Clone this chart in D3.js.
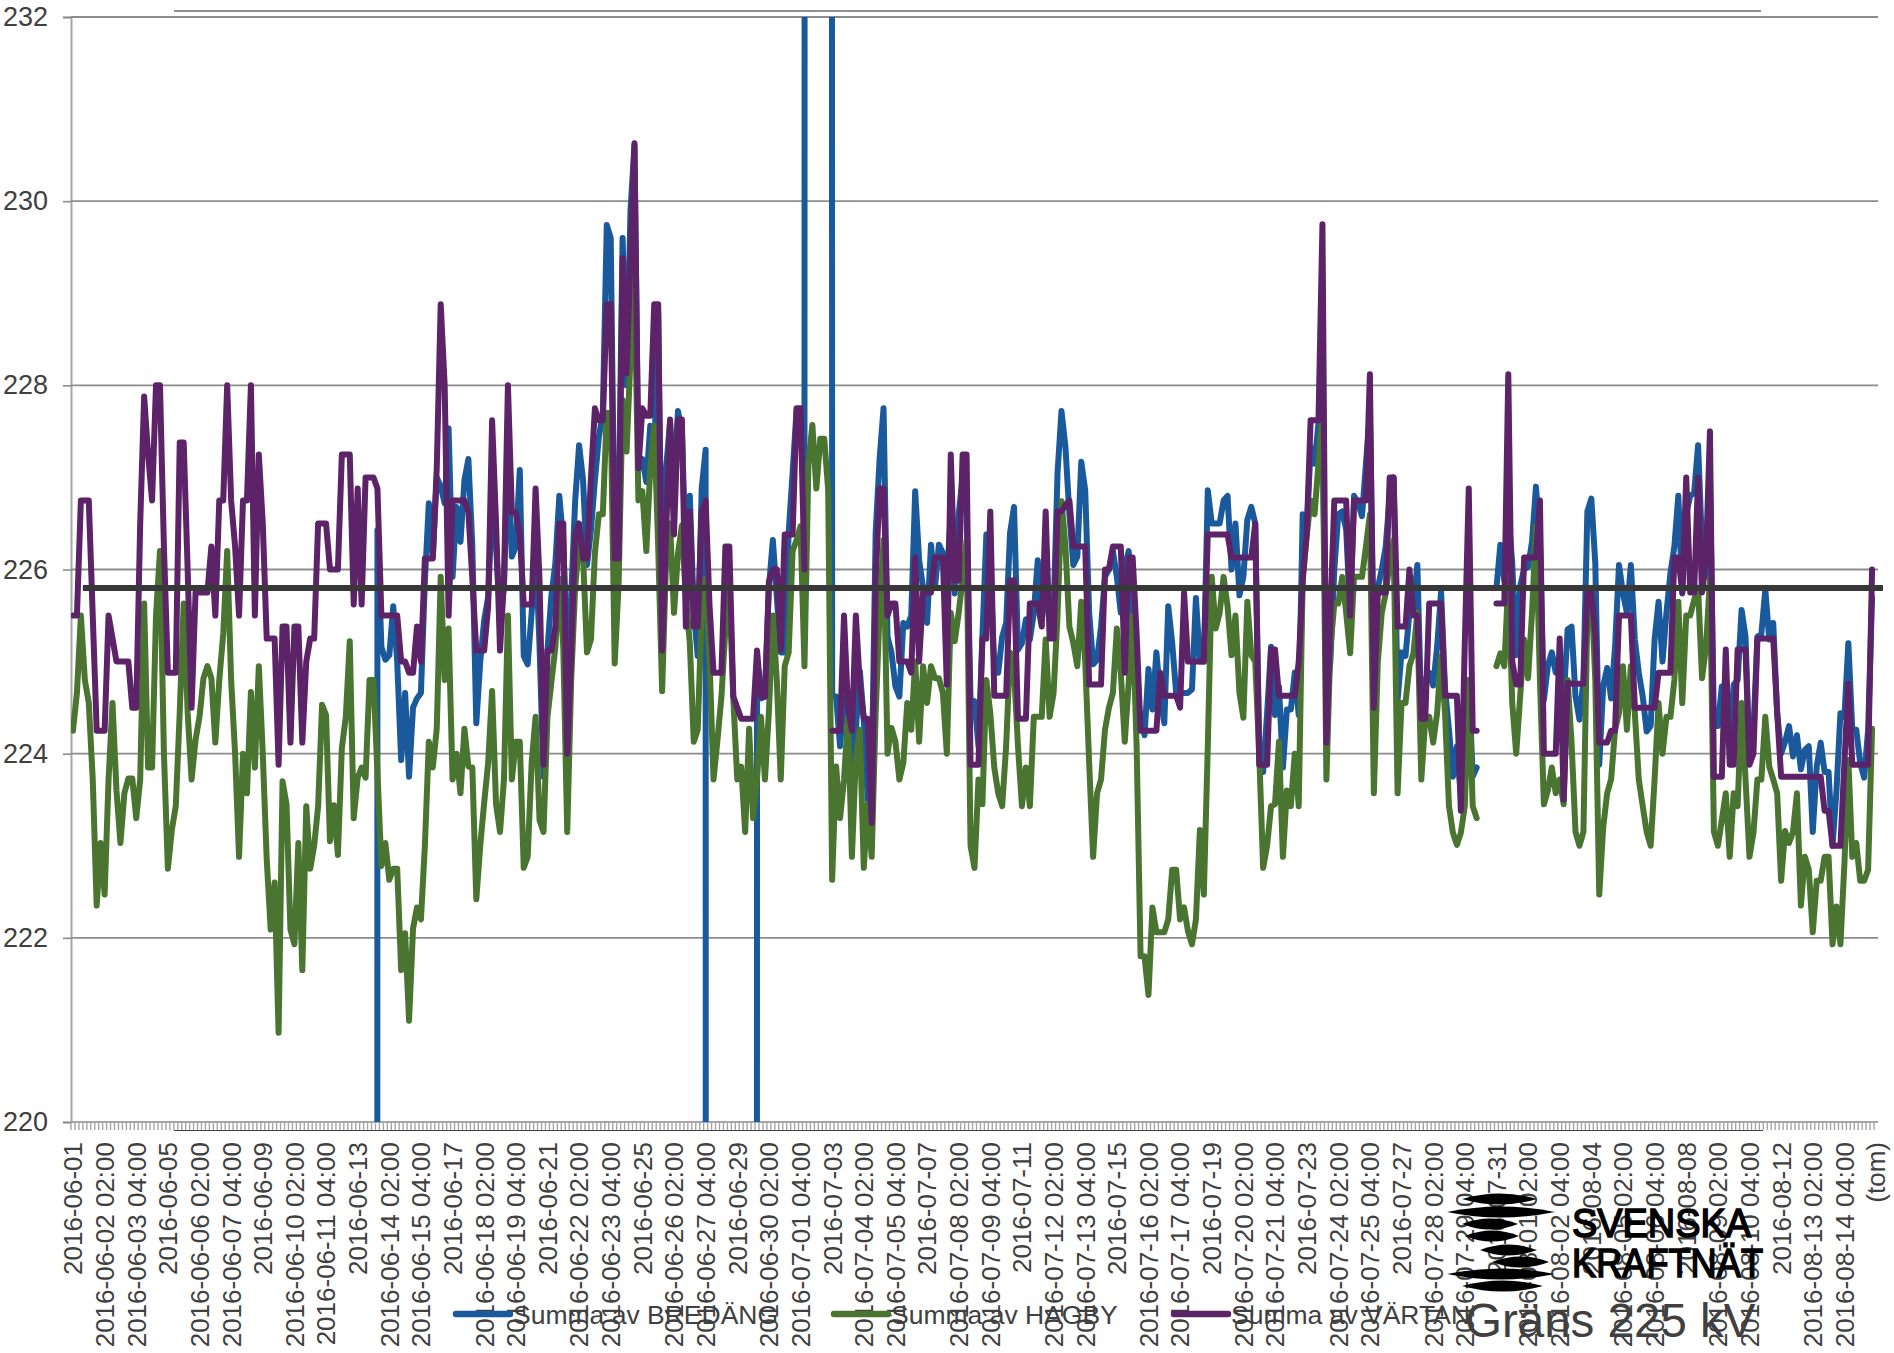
<!DOCTYPE html>
<html>
<head>
<meta charset="utf-8">
<script src="https://cdn.jsdelivr.net/npm/d3@7"></script>
<style>
  html, body { margin: 0; padding: 0; background: #fff; }
  text { font-family: "Liberation Sans", Arial, sans-serif; fill: #404040; }
</style>
</head>
<body>
<div id="chart"></div>
<script>
////////////////////////////////////////////////////////////////////////
// Data

const n = null;

// one label for every 8th point
const xLabels = [
  "2016-06-01","2016-06-02 02:00","2016-06-03 04:00","2016-06-05","2016-06-06 02:00","2016-06-07 04:00",
  "2016-06-09","2016-06-10 02:00","2016-06-11 04:00","2016-06-13","2016-06-14 02:00","2016-06-15 04:00",
  "2016-06-17","2016-06-18 02:00","2016-06-19 04:00","2016-06-21","2016-06-22 02:00","2016-06-23 04:00",
  "2016-06-25","2016-06-26 02:00","2016-06-27 04:00","2016-06-29","2016-06-30 02:00","2016-07-01 04:00",
  "2016-07-03","2016-07-04 02:00","2016-07-05 04:00","2016-07-07","2016-07-08 02:00","2016-07-09 04:00",
  "2016-07-11","2016-07-12 02:00","2016-07-13 04:00","2016-07-15","2016-07-16 02:00","2016-07-17 04:00",
  "2016-07-19","2016-07-20 02:00","2016-07-21 04:00","2016-07-23","2016-07-24 02:00","2016-07-25 04:00",
  "2016-07-27","2016-07-28 02:00","2016-07-29 04:00","2016-07-31","2016-08-01 02:00","2016-08-02 04:00",
  "2016-08-04","2016-08-05 02:00","2016-08-06 04:00","2016-08-08","2016-08-09 02:00","2016-08-10 04:00",
  "2016-08-12","2016-08-13 02:00","2016-08-14 04:00","(tom)"
];

const yTicks = [220, 222, 224, 226, 228, 230, 232];
const limitValue = 225.8;

const bredang = [
  n,n,n,n,n,n,n,n,n,n, n,n,n,n,n,n,n,n,n,n,
  n,n,n,n,n,n,n,n,n,n, n,n,n,n,n,n,n,n,n,n,
  n,n,n,n,n,n,n,n,n,n, n,n,n,n,n,n,n,n,n,n,
  n,n,n,n,n,n,n,n,n,n,
  n,n,n,n,n,n,0,226.43,225.16,225.02,
  225.07,225.6,225,223.93,224.66,223.75,224.5,224.6,224.66,225.88,
  226.72,226.14,227,226.9,226.72,227.53,225.92,226.68,226.3,226.97,
  227.2,226.25,224.33,225,225.45,225.7,226.72,226.25,225.5,225.8,
  227.33,226.14,226.25,227.08,225.06,224.97,225.53,226.25,225.16,223.75,
  225.13,225.72,226.07,226.8,226.3,225.06,225.7,226.74,227.35,226.97,
  226.05,226.43,226.97,227.44,227.7,229.74,229.6,226.13,226.6,229.6,
  228,229.9,230.6,227.1,227.2,226.95,227.56,227.2,228.8,225.5,
  227.1,227.6,226.9,227.72,227.5,226.1,226.8,225.55,225.06,226.88,
  227.3,0,n,n,n,n,n,n,n,n,
  n,n,0,224.8,224.6,224.62,225.8,226.32,225.7,225.1,
  225.1,226.4,227.05,227.73,227.73,226.9,400,n,n,n,
  n,400,224.62,224.62,224.08,224.6,224.44,223.86,224.26,224.9,
  224.37,223.5,223.72,226.4,227.2,227.75,225.27,225.1,224.73,224.62,
  225.42,225.38,225.5,226.85,226.1,225.8,225.42,226.27,225.8,226.27,
  226.18,225.88,226.6,225.74,226.6,227,226.6,224.58,224.57,224.08,
  225.27,226.38,226.03,224.95,224.88,225.27,225.42,226.4,226.68,225.13,
  225.2,225.46,225.24,225.53,226.1,225.45,225.74,225.53,225.53,227.05,
  227.72,227.33,226.6,226.05,226.14,227.17,226.86,225.53,224.97,225.02,
  225.38,225.92,226,226.2,225.92,225.53,226.03,226.2,225.45,224.44,
  224.44,224.2,224.92,224.48,225.1,224.62,224.33,225.6,225.2,224.66,
  224.66,224.66,224.66,224.7,225.69,225,225,226.86,226.5,226.5,
  226.5,226.75,226.8,226,226.5,225.72,225.92,226.54,226.68,226.5,
  224.1,223.8,224.44,225.16,224.42,224.73,223.85,224.48,224.48,224.88,
  224.42,226.6,226.38,227.33,227.15,227.59,227.6,224.6,225,226,
  226.6,226.63,226.43,225.53,226.8,226.72,226.58,227.15,227.7,225.16,
  225.8,226,226.25,226.8,227,224.58,225.1,225.06,225.53,225.6,
  226.05,224.44,224.8,224.88,224.74,225.16,225.76,224.7,224.26,223.75,
  224.08,223.54,224.44,224.8,223.75,223.85,n,n,n,n,
  225.8,226.27,225.88,226.6,226.07,225.07,225.82,226,226.03,226.3,
  226.9,226.32,224.58,224.95,225.1,224.88,224.88,224.58,225.35,225.38,
  224.62,224.37,224.8,226.63,226.77,226.07,223.88,224.73,224.93,224.6,
  225.16,226.05,225.74,225.53,226.05,225.24,224.88,224.62,224.24,224.3,
  225.24,225.65,225,225.53,225.96,226.25,226.8,225.74,226.6,226.8,
  226.83,227.35,226.25,225.92,227,224.3,224.3,224.73,224.44,224.08,
  224.75,224.8,225.56,225.27,223.9,224.26,225.27,225.3,225.78,225.24,
  225.42,224.44,224,224.13,224.3,223.97,224.2,223.83,224.04,224.08,
  223.15,223.86,224.12,223.8,223.8,223,223.6,224.44,224.4,225.2,
  224.26,224.26,223.9,223.74,224.26,225.7
];

const hagby = [
  224.25,224.66,225.5,224.8,224.55,223.72,222.35,223.03,222.47,223.72,
  224.55,223.6,223.03,223.57,223.73,223.73,223.3,223.72,225.63,223.85,
  223.85,225.5,226.2,224,222.75,223.17,223.43,224.45,225.63,224.45,
  223.72,224.15,224.4,224.82,224.95,224.82,224.12,224.8,225.3,226.2,
  224.8,224,222.88,224,223.57,224.67,223.85,224.95,224,222.85,
  222.09,222.6,220.97,223.7,223.45,222.09,221.93,223.03,221.65,223.43,
  222.75,223,223.43,224.53,224.42,223.05,223.44,222.9,224.06,224.4,
  225.22,223.3,223.74,223.85,223.74,224.8,224.8,223.8,222.78,223.03,
  222.63,222.75,222.75,221.65,222.05,221.1,222.1,222.33,222.2,223,
  224.13,223.85,224.27,225.92,224.8,225.36,223.72,224,223.57,224.27,
  223.86,223.85,222.42,223,223.47,223.9,224.68,223.45,223.15,223.72,
  225.5,223.72,224.13,224.13,222.76,222.88,223.9,224.4,223.28,223.15,
  224.4,224.78,225.16,225.9,225.15,223.15,224.8,225.8,226.3,226.14,
  225.1,225.24,226.18,226.6,226.6,227.7,227.7,224.98,225.84,227.84,
  227.28,228.3,229.2,226.75,226.85,226.2,227.1,227.56,226.25,224.68,
  226.1,226.5,225.53,226.17,226.48,225.7,225.2,224.13,224.26,225.53,
  225.9,225,223.72,224.15,224.62,225.35,225.82,224.6,223.72,223.86,
  223.15,224.27,223.3,223.72,224.4,223.72,224.45,225.5,224.8,223.72,
  224.95,225.1,226.2,226.32,226.47,224.95,227.15,227.57,226.88,227.42,
  227.42,226.86,222.63,223.86,223.3,223.72,224.4,222.88,223.97,224.26,
  222.76,223.45,222.88,224.44,225.53,226.32,224,224.28,224.13,223.72,
  223.9,224.55,224.26,225,224.13,224.95,224.55,224.95,224.82,224.82,
  224.66,224,225.53,225.22,225.53,225.9,226.32,223,222.76,223.72,
  223.45,224.8,224.44,223.85,223.57,223.43,224.08,225.1,224.9,224.08,
  223.43,223.85,223.43,224.4,224.4,224.4,225.24,224.4,224.66,225.5,
  226.74,226.25,225.38,225.2,224.95,225.65,225,223.9,222.88,223.57,
  223.72,224.26,224.5,224.66,225.36,224.88,224.13,224.77,225.5,224.08,
  221.8,221.8,221.38,222.33,222.06,222.06,222.06,222.2,222.74,222.74,
  222.2,222.33,222.07,221.93,222.2,223.17,222.47,224.08,225.92,225.36,
  225.53,225.92,225.6,225.07,225.5,224.66,224.39,225.65,225.07,225,
  224,222.76,223,223.43,223.45,224.13,222.88,223.6,223.43,224,
  223.43,225.9,226.36,226.75,226.6,227.15,227.7,223.72,225.15,225.63,
  225.63,225.92,225.53,225.09,225.92,225.92,225.92,226.25,226.6,223.57,
  225,225.53,225.74,226.07,226.32,223.57,224.55,224.55,224.95,225.09,
  225.53,223.72,224.37,224.4,224.12,224.44,225.06,224.44,223.43,223.14,
  223.01,223.14,223.43,224.8,223.43,223.3,n,n,n,n,
  224.95,225.09,224.95,225.88,224.55,224,224.62,225.24,224.82,225.53,
  226.47,224.8,223.45,223.6,223.85,223.57,223.72,223.45,224.8,224.12,
  223.15,223,223.15,225.53,225.8,224.8,222.47,223.2,223.57,223.72,
  224.26,224.44,224.95,224.26,224.95,224.44,223.72,223.43,223.15,223,
  223.72,224.55,224,224.4,224.4,224.8,225.65,224.55,225.5,225.5,
  225.67,225.8,224.82,225.16,225.9,223.15,223,223.28,223.57,222.88,
  223.57,223.43,224.55,223.72,222.88,223.14,223.72,223.72,224.4,223.86,
  223.72,223.57,222.62,223.16,223.03,223.15,223.57,222.35,222.88,222.74,
  222.06,222.62,222.62,222.88,222.88,221.93,222.34,221.93,222.8,223.93,
  222.88,223.03,222.62,222.62,222.74,224.27
];

const vartan = [
  225.5,225.5,226.75,226.75,226.75,225.5,224.25,224.25,224.25,225.5,
  225.25,225,225,225,225,224.5,224.5,226.5,227.88,227.25,
  226.75,228,228,226.25,224.88,224.88,224.88,227.38,227.38,226,
  224.5,225.75,225.75,225.75,225.75,226.25,225.5,226.75,226.75,228,
  226.75,226.25,225.5,226.75,226.75,228,225.5,227.25,226.5,225.25,
  225.25,225.25,223.88,225.38,225.38,224.12,225.38,225.38,224.12,225,
  225.25,225.25,226.5,226.5,226.5,226,226,226,227.25,227.25,
  227.25,225.62,226.88,225.62,227,227,227,226.88,225.5,225.5,
  225.5,225.5,225.5,225,225,224.88,224.88,225.38,225,226.12,
  226.12,226.12,227.1,228.88,228,225.5,226.75,226.75,226.75,226.75,
  226.62,225.9,225.12,225.12,225.12,225.6,227.62,226.5,225.12,225.88,
  228,226.62,226.62,226.38,225.62,225.62,225.62,226.88,225.88,223.88,
  225.12,225.12,225.38,226.5,226.5,224,225.1,226.38,226.5,226.12,
  226.12,227,227.75,227.62,227.62,228.88,228.88,226.12,226.12,229.38,
  228.13,229.4,230.63,227.1,227.75,227.67,227.67,228.88,228.88,225.12,
  226.39,227.63,226.38,227.63,227.63,225.38,226.63,225.38,225.38,226.63,
  226.75,225.6,224.88,224.88,224.88,226.25,226.25,224.62,224.5,224.38,
  224.38,224.38,224.38,225.12,224.62,224.62,225.87,226,226,225.13,
  226.38,226.38,226.38,227.75,227.75,226,n,n,n,n,
  n,n,224.25,224.25,224.25,225.5,224.5,224.25,225.5,224.75,
  224.38,224.38,223.25,225.88,226.88,226.88,225.5,225.63,225.63,225,
  225,225,224.88,226.13,225,225.75,225.75,225.75,226.13,226.13,
  226.13,224.75,227.25,225.88,225.88,227.25,227.25,223.88,223.88,223.88,
  225.25,225.25,226.63,224.63,224.63,224.63,224.63,225.88,225.88,224.38,
  224.38,224.38,225.63,225.63,225.63,225.38,226.63,225.25,225.25,226.63,
  226.63,226.7,226.75,226.25,226.25,226.25,226.25,224.75,224.75,224.75,
  224.75,226,226,226.25,226.25,226.25,224.88,226.13,226.13,225.3,
  224.25,224.25,224.25,224.25,224.25,224.88,224.63,224.63,224.63,224.63,
  224.5,225.75,225,225,225,225,225,226.38,226.38,226.38,
  226.38,226.38,226.38,226.13,226.13,226.13,226.13,226.13,226.13,226.5,
  223.88,223.88,223.88,225.13,225.13,224.63,224.63,224.63,224.63,224.63,
  225,225.88,226.38,227.62,227.62,227.62,229.75,224.12,225.5,226.75,
  226.75,226.75,226.75,225.5,226.75,226.75,226.75,226.75,228.12,224.5,
  225.75,225.75,225.75,227,227,225.38,225.38,225.38,226,225.5,
  225.5,224.38,224.38,225.63,225.63,225.63,225.63,224.63,224.63,224.63,
  224.63,223.38,225.2,226.88,224.25,224.25,n,n,n,n,
  225.63,225.63,225.63,228.12,225,224.75,224.75,226.13,226.13,226.13,
  226.13,226.75,224,224,224,224,225.25,223.5,224.77,224.76,
  224.76,224.76,224.76,225.75,225.75,225.3,224.12,224.12,224.12,224.25,
  224.25,225.5,225.5,225.5,225.5,224.5,224.5,224.5,224.5,224.5,
  224.5,224.88,224.88,224.88,224.88,226.13,226.13,225.75,227,225.75,
  225.75,227,225.75,226.13,227.5,223.75,223.75,223.75,225.13,223.88,
  223.88,225.13,225.13,225.13,223.88,224,225.25,225.25,225.25,225.25,
  225.25,224.45,223.75,223.75,223.75,223.75,223.75,223.75,223.75,223.75,
  223.75,223.75,223.75,223.38,223.38,223,223,223,223.9,224.76,
  223.88,223.88,223.88,223.88,223.88,226
];

const legendNames = ["Summa av BREDÄNG", "Summa av HAGBY", "Summa av VÄRTAN"];
const seriesColors = ["#1a5a9c", "#4a7530", "#5c2368"];

////////////////////////////////////////////////////////////////////////
// Layout and scales

const width = 1894, height = 1353;
const plotLeft = 71, plotRight = 1878, plotTop = 17, plotBottom = 1122;

const svg = d3.select("#chart").append("svg")
  .attr("width", width)
  .attr("height", height)
  .style("display", "block");

const xScale = d3.scaleBand()
  .domain(d3.range(vartan.length + 1))   // the last slot is "(tom)"
  .range([plotLeft, plotRight]);

const yScale = d3.scaleLinear()
  .domain([220, 232])
  .range([plotBottom, plotTop]);

const xMid = i => xScale(i) + xScale.bandwidth() / 2;

svg.append("defs").append("clipPath").attr("id", "plotClip")
  .append("rect")
  .attr("x", plotLeft).attr("y", plotTop)
  .attr("width", plotRight - plotLeft).attr("height", plotBottom - plotTop);

////////////////////////////////////////////////////////////////////////
// Axes and grid

// thin frame lines seen above and below the plot
svg.append("line").attr("x1", 174).attr("x2", 1761).attr("y1", 11).attr("y2", 11)
  .attr("stroke", "#222").attr("stroke-width", 1);
svg.append("line").attr("x1", 174).attr("x2", 1763).attr("y1", 1130.5).attr("y2", 1130.5)
  .attr("stroke", "#444").attr("stroke-width", 1);

// small tick on every category edge
const xTickG = svg.append("g")
  .attr("transform", `translate(${-xScale.bandwidth() / 2}, ${plotBottom})`)
  .call(d3.axisBottom(xScale).tickValues(xScale.domain()).tickSize(8).tickFormat(""));
xTickG.select(".domain").remove();
xTickG.selectAll("line").attr("stroke", "#a6a6a6").attr("stroke-width", 1.4);

// labels on every 8th category
const xLabelG = svg.append("g")
  .attr("transform", `translate(0, ${plotBottom})`)
  .call(d3.axisBottom(xScale)
    .tickValues(xLabels.map((d, i) => i * 8))
    .tickSize(0)
    .tickFormat(d => xLabels[d / 8]));
xLabelG.select(".domain").remove();
xLabelG.selectAll("text")
  .attr("transform", "rotate(-90)")
  .attr("x", -20)
  .attr("y", 0)
  .attr("dy", "0.36em")
  .attr("text-anchor", "end")
  .style("font-family", '"Liberation Sans", Arial, sans-serif')
  .style("font-size", "26px")
  .style("fill", "#404040");

const yAxisG = svg.append("g")
  .attr("transform", `translate(${plotLeft}, 0)`)
  .call(d3.axisLeft(yScale).tickValues(yTicks).tickSize(8).tickPadding(15).tickFormat(d3.format("d")));
yAxisG.select(".domain").attr("stroke", "#a6a6a6").attr("stroke-width", 2);
yAxisG.selectAll("line").attr("stroke", "#8c8c8c").attr("stroke-width", 1.6);
yAxisG.selectAll("text")
  .style("font-family", '"Liberation Sans", Arial, sans-serif')
  .style("font-size", "27px")
  .style("fill", "#404040");

svg.append("g").selectAll("line")
  .data(yTicks)
  .join("line")
  .attr("x1", plotLeft)
  .attr("x2", plotRight)
  .attr("y1", d => yScale(d))
  .attr("y2", d => yScale(d))
  .attr("stroke", d => d === 220 ? "#a6a6a6" : "#8c8c8c")
  .attr("stroke-width", 1.8);

////////////////////////////////////////////////////////////////////////
// Series

const lineGen = d3.line()
  .defined(d => d !== null)
  .x((d, i) => xMid(i))
  .y(d => yScale(d));

svg.append("g")
  .attr("clip-path", "url(#plotClip)")
  .selectAll("path")
  .data([bredang, hagby, vartan])
  .join("path")
  .attr("d", lineGen)
  .attr("fill", "none")
  .attr("stroke", (d, i) => seriesColors[i])
  .attr("stroke-width", 6)
  .attr("stroke-linecap", "round")
  .attr("stroke-linejoin", "round");

// 225 kV limit, runs a little past the plot on the right
svg.append("line")
  .attr("x1", xMid(3) - 2)
  .attr("x2", plotRight + 5)
  .attr("y1", yScale(limitValue))
  .attr("y2", yScale(limitValue))
  .attr("stroke", "#383838")
  .attr("stroke-width", 6);

////////////////////////////////////////////////////////////////////////
// Legend

const legendX = [454, 832, 1172];
const legend = svg.append("g").selectAll("g")
  .data(legendNames)
  .join("g")
  .attr("transform", (d, i) => `translate(${legendX[i]}, 1314)`);

legend.append("line")
  .attr("x1", 2).attr("x2", 56)
  .attr("stroke", (d, i) => seriesColors[i])
  .attr("stroke-width", 6.5)
  .attr("stroke-linecap", "round");

legend.append("text")
  .attr("x", 59)
  .attr("y", 9.5)
  .style("font-size", "26.5px")
  .text(d => d);

svg.append("text")
  .attr("x", 1465)
  .attr("y", 1337)
  .style("font-size", "47.5px")
  .text("Gräns 225 kV");

////////////////////////////////////////////////////////////////////////
// Logo

const logoLens = [
  [1462, 1537, 1199], [1447, 1555, 1212], [1462, 1518, 1224], [1465, 1519, 1236],
  [1480, 1537, 1250], [1492, 1549, 1262], [1447, 1555, 1274], [1462, 1543, 1286]
];

svg.append("g").selectAll("path")
  .data(logoLens)
  .join("path")
  .attr("d", d => {
    const mid = (d[0] + d[1]) / 2;
    return `M${d[0]},${d[2]}Q${mid},${d[2] - 11} ${d[1]},${d[2]}Q${mid},${d[2] + 11} ${d[0]},${d[2]}Z`;
  })
  .attr("fill", "#000");

svg.append("text")
  .attr("x", 1572).attr("y", 1237)
  .attr("textLength", 179).attr("lengthAdjust", "spacingAndGlyphs")
  .style("font-size", "40px").style("fill", "#000")
  .style("stroke", "#000").style("stroke-width", 1.6)
  .text("SVENSKA");

svg.append("text")
  .attr("x", 1572).attr("y", 1277)
  .attr("textLength", 191).attr("lengthAdjust", "spacingAndGlyphs")
  .style("font-size", "40px").style("fill", "#000")
  .style("stroke", "#000").style("stroke-width", 1.6)
  .text("KRAFTNÄT");
</script>
</body>
</html>
